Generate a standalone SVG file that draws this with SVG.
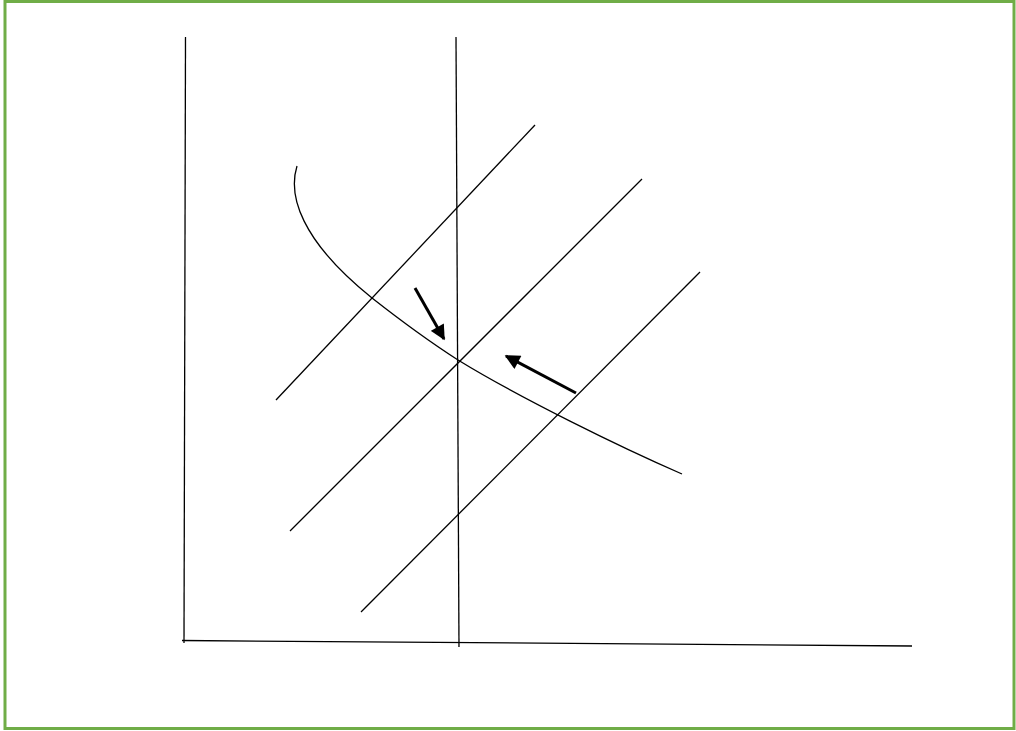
<svg xmlns="http://www.w3.org/2000/svg" width="1016" height="731" viewBox="0 0 1016 731">
<defs>
<style>
.ln{stroke:#000;stroke-width:1.3;fill:none}
.ar{stroke:#000;stroke-width:3;fill:none}
</style>
<marker id="ah" viewBox="0 0 10 10" refX="9" refY="5" markerWidth="5.5" markerHeight="5" orient="auto" markerUnits="strokeWidth">
<path d="M0,0 L10,5 L0,10 z" fill="#000"/>
</marker>
</defs>
<rect x="5" y="1.5" width="1009" height="727" fill="#fff" stroke="#70AD47" stroke-width="3"/>
<g id="axes">
<line class="ln" x1="185.5" y1="37" x2="184" y2="643"/>
<line class="ln" x1="182" y1="640.5" x2="912" y2="646"/>
<line class="ln" x1="456" y1="37" x2="459" y2="647"/>
</g>
<g id="lines">
<line class="ln" x1="276" y1="400" x2="535" y2="125"/>
<line class="ln" x1="290" y1="531" x2="642" y2="179"/>
<line class="ln" x1="361" y1="612" x2="700" y2="272"/>
</g>
<g id="curve">
<path class="ln" d="M297,166 C288,195 300,240 372,298 C400,320 430,342 458,360 C520,398 620,447 682,474"/>
</g>
<g id="connectors">
<line class="ar" x1="415" y1="288" x2="444" y2="339" marker-end="url(#ah)"/>
<line class="ar" x1="576" y1="393" x2="506" y2="356" marker-end="url(#ah)"/>
</g>
</svg>
